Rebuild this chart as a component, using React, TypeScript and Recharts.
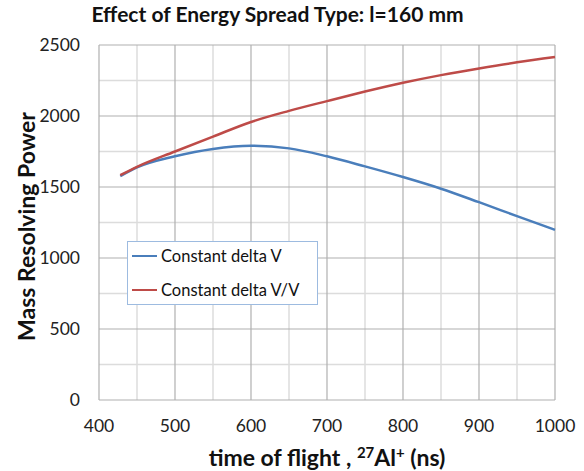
import React from "react";
import { LineChart, Line, XAxis, YAxis, CartesianGrid, Legend, Label } from "recharts";

const timeOfFlight = [428, 450, 500, 550, 600, 650, 700, 750, 800, 850, 900, 950, 1000];
const constantDeltaV = [1576, 1638, 1716, 1768, 1790, 1772, 1716, 1645, 1570, 1488, 1393, 1295, 1198];
const constantDeltaVV = [1583, 1642, 1750, 1855, 1958, 2036, 2105, 2172, 2234, 2288, 2335, 2378, 2415];
const xTicks = [400, 500, 600, 700, 800, 900, 1000];
const yTicks = [0, 500, 1000, 1500, 2000, 2500];
const xMinor = [450, 550, 650, 750, 850, 950];
const yMinor = [250, 750, 1250, 1750, 2250];
const seriesNames = ["Constant delta V", "Constant delta V/V"];

const data = timeOfFlight.map((x, i) => ({ x, a: constantDeltaV[i], b: constantDeltaVV[i] }));

const FONT = "Lato, 'Open Sans', sans-serif";

const LegendBox = (props: any) => {
  const items = props.payload || [];
  return (
    <div
      style={{
        position: "relative",
        border: "1px solid #9dbbe0",
        background: "#fff",
        width: 191,
        height: 64,
        boxSizing: "border-box",
        fontFamily: FONT,
        fontSize: 16.5,
        color: "#111",
      }}
    >
      {items.map((it: any, i: number) => (
        <div
          key={it.value}
          style={{ position: "absolute", left: 0, top: i * 34, display: "flex", alignItems: "center", height: 28 }}
        >
          <div style={{ width: 25, height: 2.5, background: it.color, marginLeft: 4, marginRight: 4 }} />
          <span style={{ whiteSpace: "nowrap" }}>{it.value}</span>
        </div>
      ))}
    </div>
  );
};

export default function App() {
  return (
    <div style={{ position: "absolute", left: 0, top: 0, width: 584, height: 471, background: "#fff" }}>
      <div
        style={{
          position: "absolute",
          left: 0,
          width: 555,
          top: 1,
          textAlign: "center",
          fontFamily: FONT,
          fontWeight: 700,
          fontSize: 21,
          color: "#111",
          whiteSpace: "nowrap",
        }}
      >
        Effect of Energy Spread Type: l=160 mm
      </div>
      <LineChart width={584} height={471} data={data} margin={{ top: 45, right: 29, left: 0, bottom: 0 }}>
        <CartesianGrid stroke="#dcdcdc" strokeWidth={1.5} verticalValues={xMinor} horizontalValues={yMinor} />
        <CartesianGrid stroke="#b0b0b0" strokeWidth={1.2} verticalValues={xTicks} horizontalValues={yTicks} />
        <XAxis
          dataKey="x"
          type="number"
          domain={[400, 1000]}
          ticks={xTicks}
          tickLine={false}
          axisLine={false}
          tickSize={6}
          tickMargin={14}
          height={71}
          tick={{ fontSize: 17.5, fill: "#222", fontFamily: FONT }}
        >
          <Label
            content={(p: any) => {
              const vb = p.viewBox;
              return (
                <text
                  x={vb.x + vb.width / 2}
                  y={vb.y + 66}
                  textAnchor="middle"
                  fontFamily={FONT}
                  fontWeight={700}
                  fontSize={23}
                  fill="#111"
                >
                  time of flight , <tspan fontSize={15} dy={-8}>27</tspan>
                  <tspan dy={8}>Al</tspan>
                  <tspan fontSize={15} dy={-8}>+</tspan>
                  <tspan dy={8}> (ns)</tspan>
                </text>
              );
            }}
          />
        </XAxis>
        <YAxis
          type="number"
          domain={[0, 2500]}
          ticks={yTicks}
          tickLine={false}
          axisLine={false}
          tickSize={6}
          tickMargin={13}
          width={99}
          tick={{ fontSize: 17.5, fill: "#222", fontFamily: FONT }}
        >
          <Label
            content={(p: any) => {
              const vb = p.viewBox;
              const cy = vb.y + vb.height / 2 + 4;
              return (
                <text
                  x={26}
                  y={cy}
                  transform={`rotate(-90, 26, ${cy})`}
                  textAnchor="middle"
                  dominantBaseline="central"
                  fontFamily={FONT}
                  fontWeight={700}
                  fontSize={23}
                  fill="#111"
                >
                  Mass Resolving Power
                </text>
              );
            }}
          />
        </YAxis>
        <Legend
          layout="vertical"
          align="center"
          verticalAlign="middle"
          content={<LegendBox />}
          wrapperStyle={{ position: "absolute", left: 127, top: 241, width: 191, height: 64 }}
        />
        <Line
          type="monotone"
          dataKey="a"
          name={seriesNames[0]}
          stroke="#4a7ebb"
          strokeWidth={2.5}
          dot={false}
          isAnimationActive={false}
        />
        <Line
          type="monotone"
          dataKey="b"
          name={seriesNames[1]}
          stroke="#be4b48"
          strokeWidth={2.5}
          dot={false}
          isAnimationActive={false}
        />
      </LineChart>
    </div>
  );
}
